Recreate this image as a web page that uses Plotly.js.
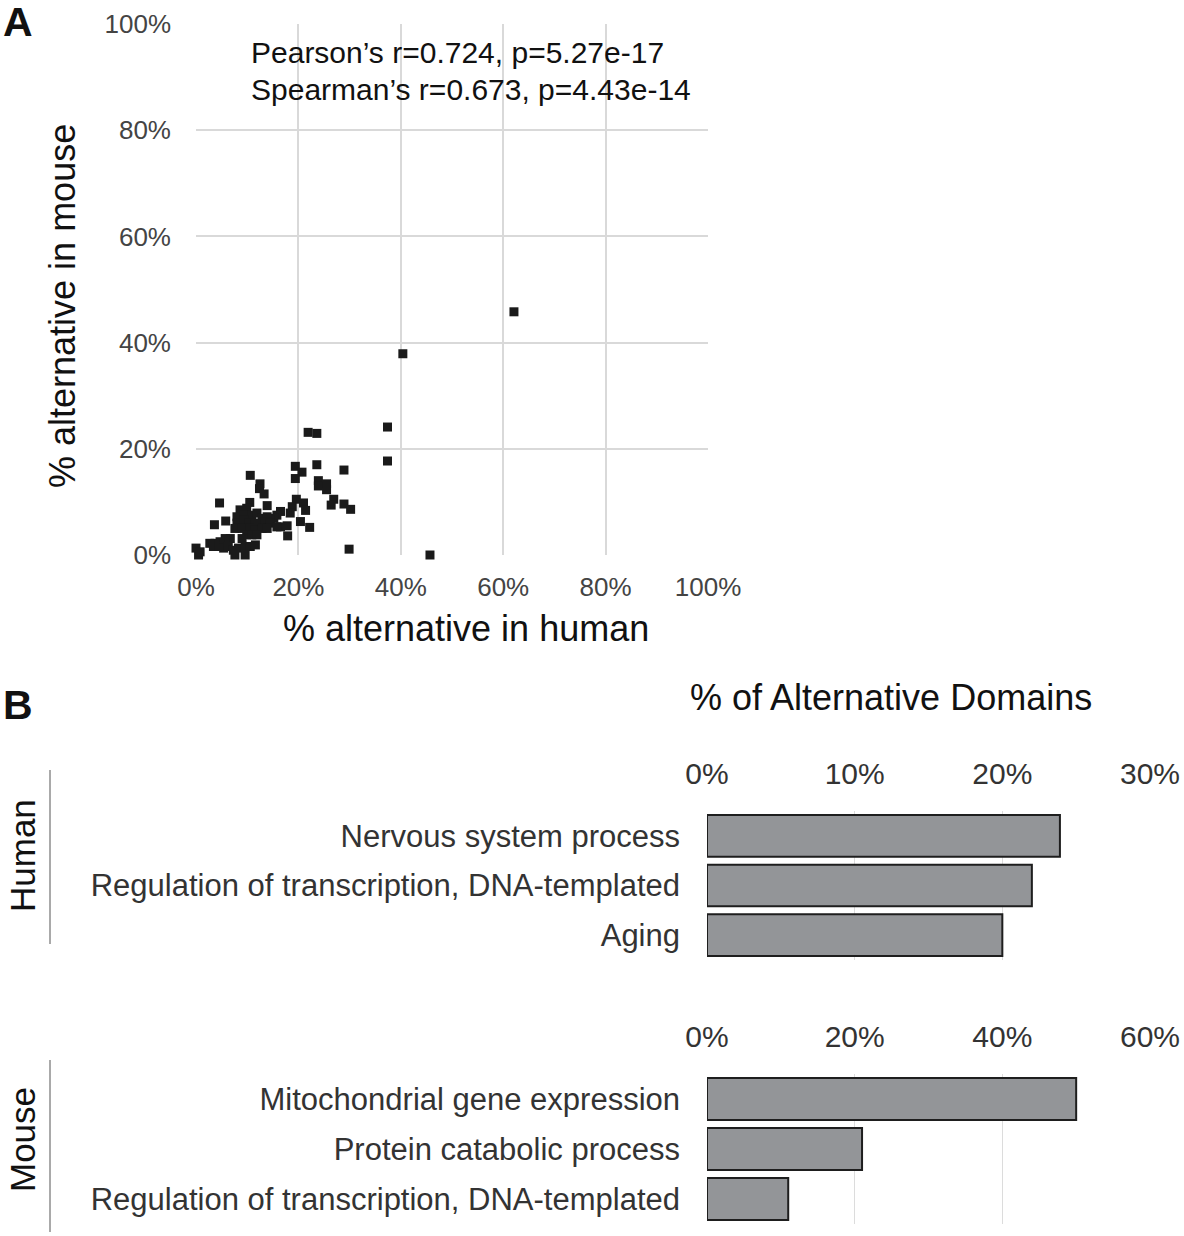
<!DOCTYPE html>
<html>
<head>
<meta charset="utf-8">
<script src="https://cdn.plot.ly/plotly-3.0.1.min.js"></script>
<style>html,body{margin:0;padding:0;background:#fff;}#chart{width:1184px;height:1236px;}</style>
</head>
<body>
<div id="chart"></div>
<script>
// Panel A: % alternative in human vs mouse
const humanPct = [62.1,40.4,21.9,23.6,37.4,37.4,23.6,28.9,19.4,20.7,19.4,23.9,23.9,25.5,25.5,26.9,26.4,28.9,30.2,29.9,45.7,
  19.6,21.0,18.8,21.4,18.4,20.4,22.2,17.8,17.9,16.5,16.5,10.6,12.5,12.4,13.3,4.6,10.5,13.9,8.6,9.9,15.8,15.2,14.5,3.6,5.8,
  8.0,9.3,10.9,11.9,12.9,13.9,8.0,9.3,10.3,11.6,12.5,13.5,14.5,7.6,9.0,10.6,11.6,12.9,13.9,9.9,10.9,11.9,9.0,6.7,5.7,4.7,
  3.7,2.7,3.4,4.4,5.4,6.3,7.3,8.3,9.6,10.6,11.6,7.6,9.6,0.5,0.0,0.8,15.8];
const mousePct = [45.8,37.9,23.1,22.9,24.1,17.7,17.0,16.0,16.7,15.6,14.4,14.0,13.0,13.4,12.3,10.5,9.4,9.6,8.6,1.1,0.0,
  10.5,9.8,9.1,8.4,7.9,6.3,5.2,5.5,3.6,8.2,5.3,15.0,13.4,12.5,11.5,9.8,9.9,9.3,8.5,8.8,7.5,6.9,6.6,5.7,6.4,
  7.2,7.5,7.5,7.9,6.9,7.2,6.0,6.6,6.0,6.0,5.7,6.3,6.0,5.0,5.0,5.0,4.7,5.0,5.0,3.8,3.8,3.8,3.1,3.1,3.1,2.5,
  2.2,2.2,1.6,1.6,1.3,1.6,0.9,1.3,1.6,1.6,1.9,0.0,0.0,0.0,1.3,0.6,5.3];
const scatterTicks = [0,20,40,60,80,100];
const scatterTickText = ["0%","20%","40%","60%","80%","100%"];
const statLines = ["Pearson’s r=0.724, p=5.27e-17","Spearman’s r=0.673, p=4.43e-14"];

// Panel B
const humanTerms = ["Nervous system process","Regulation of transcription, DNA-templated","Aging"];
const humanValues = [23.9,22.0,20.0];
const humanTicks = [0,10,20,30];
const humanTickText = ["0%","10%","20%","30%"];
const mouseTerms = ["Mitochondrial gene expression","Protein catabolic process","Regulation of transcription, DNA-templated"];
const mouseValues = [50.0,21.0,11.0];
const mouseTicks = [0,20,40,60];
const mouseTickText = ["0%","20%","40%","60%"];

const W = 1184, H = 1236;
const px = v => v / W;
const py = v => 1 - v / H;
const FONT = "Liberation Sans, Arial, Helvetica, sans-serif";

const traces = [
  {type:'scatter', mode:'markers', x:humanPct, y:mousePct, xaxis:'x', yaxis:'y',
   marker:{symbol:'square', size:9, color:'#1a1a1a', line:{width:0}}, cliponaxis:false, hoverinfo:'x+y'},
  {type:'bar', orientation:'h', x:humanValues, y:humanTerms, xaxis:'x2', yaxis:'y2',
   marker:{color:'#939598', line:{color:'#1e1e1e', width:2}}},
  {type:'bar', orientation:'h', x:mouseValues, y:mouseTerms, xaxis:'x3', yaxis:'y3',
   marker:{color:'#939598', line:{color:'#1e1e1e', width:2}}}
];

function ann(text, x, y, size, extra) {
  return Object.assign({text:text, xref:'paper', yref:'paper', x:px(x), y:py(y), xanchor:'center', yanchor:'middle',
    showarrow:false, font:{size:size, color:'#111', family:FONT}}, extra || {});
}

const gridCol = '#d9d9d9';
const layout = {
  width:W, height:H, autosize:false, showlegend:false,
  margin:{l:0,r:0,t:0,b:0}, paper_bgcolor:'#fff', plot_bgcolor:'#fff',
  font:{family:FONT, color:'#222'},
  bargap:0.16,
  xaxis:{domain:[px(196),px(708)], range:[0,100], tickvals:scatterTicks, ticktext:scatterTickText,
    showgrid:true, gridcolor:gridCol, gridwidth:2, zeroline:false, showline:false, ticks:'',
    tickfont:{size:26, color:'#444', family:FONT}, ticklabelstandoff:14, fixedrange:true},
  yaxis:{domain:[py(555),py(24)], range:[0,100], tickvals:scatterTicks, ticktext:scatterTickText,
    showgrid:true, gridcolor:gridCol, gridwidth:2, zeroline:false, showline:false, ticks:'',
    tickfont:{size:26, color:'#444', family:FONT}, ticklabelstandoff:24, fixedrange:true},
  xaxis2:{domain:[px(707),px(1150)], range:[0,30], side:'top', anchor:'y2', tickvals:humanTicks, ticktext:humanTickText,
    showgrid:true, gridcolor:'#dcdcdc', gridwidth:1, zeroline:false, showline:false, ticks:'',
    tickfont:{size:30, color:'#333', family:FONT}, ticklabelstandoff:20},
  yaxis2:{domain:[py(960),py(811)], anchor:'x2', autorange:'reversed', showgrid:false, zeroline:false, showline:false, ticks:'',
    tickfont:{size:31, color:'#333', family:FONT}, ticklabelstandoff:26},
  xaxis3:{domain:[px(707),px(1150)], range:[0,60], side:'top', anchor:'y3', tickvals:mouseTicks, ticktext:mouseTickText,
    showgrid:true, gridcolor:'#dcdcdc', gridwidth:1, zeroline:false, showline:false, ticks:'',
    tickfont:{size:30, color:'#333', family:FONT}, ticklabelstandoff:20},
  yaxis3:{domain:[py(1224),py(1074)], anchor:'x3', autorange:'reversed', showgrid:false, zeroline:false, showline:false, ticks:'',
    tickfont:{size:31, color:'#333', family:FONT}, ticklabelstandoff:26},
  shapes:[
    {type:'line', xref:'paper', yref:'paper', x0:px(50), x1:px(50), y0:py(770), y1:py(944), line:{color:'#555', width:1}},
    {type:'line', xref:'paper', yref:'paper', x0:px(50), x1:px(50), y0:py(1060), y1:py(1232), line:{color:'#555', width:1}}
  ],
  annotations:[
    ann('<b>A</b>', 18, 22, 41),
    ann('<b>B</b>', 18, 705, 41),
    ann(statLines[0], 249, 52, 30, {xanchor:'left'}),
    ann(statLines[1], 249, 90, 30, {xanchor:'left'}),
    ann('% alternative in human', 466, 628, 36),
    ann('% alternative in mouse', 62, 306, 36, {textangle:-90}),
    ann('% of Alternative Domains', 891, 697, 36),
    ann('Human', 22, 856, 35, {textangle:-90}),
    ann('Mouse', 22, 1140, 35, {textangle:-90})
  ]
};

Plotly.newPlot('chart', traces, layout, {staticPlot:true, displayModeBar:false});
</script>
</body>
</html>
